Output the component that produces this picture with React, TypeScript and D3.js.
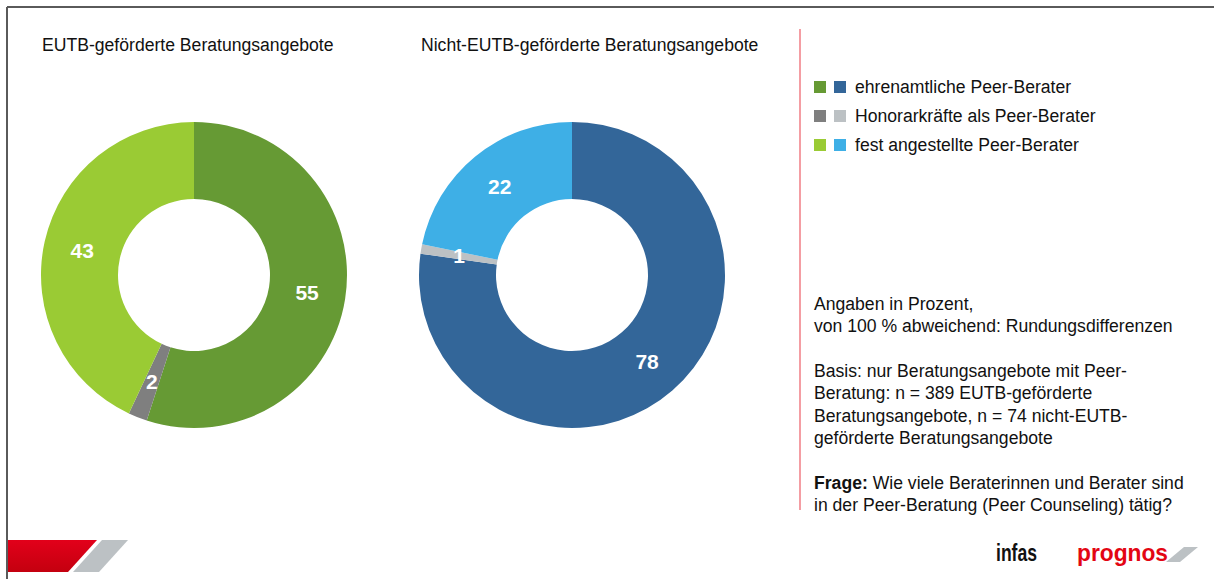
import React from 'react';
import * as d3 from 'd3';

// data
const categories = ['ehrenamtliche Peer-Berater', 'Honorarkräfte als Peer-Berater', 'fest angestellte Peer-Berater'];
const eutbValues = [55, 2, 43];
const nichtEutbValues = [78, 1, 22];
const eutbColors = ['#669a34', '#7f7f7f', '#9acb34'];
const nichtEutbColors = ['#336699', '#bcc1c4', '#3eafe6'];
const titles = ['EUTB-geförderte Beratungsangebote', 'Nicht-EUTB-geförderte Beratungsangebote'];

const notes = [
  ['Angaben in Prozent,'],
  ['von 100 % abweichend: Rundungsdifferenzen'],
  [],
  ['Basis: nur Beratungsangebote mit Peer-'],
  ['Beratung: n = 389 EUTB-geförderte'],
  ['Beratungsangebote, n = 74 nicht-EUTB-'],
  ['geförderte Beratungsangebote'],
  [],
  ['Frage:', ' Wie viele Beraterinnen und Berater sind'],
  ['in der Peer-Beratung (Peer Counseling) tätig?'],
];

const width = 1214;
const height = 579;
const font = 'Arial, "Liberation Sans", sans-serif';
const fs = 17.6;

const outerR = 153;
const innerR = 76;

const pie = d3.pie<number>().sort(null).value(d => d);
const arc = d3.arc<d3.PieArcDatum<number>>().innerRadius(innerR).outerRadius(outerR);

const Donut = ({ cx, cy, values, colors }: { cx: number; cy: number; values: number[]; colors: string[] }) => {
  const arcs = pie(values);
  return (
    <g transform={`translate(${cx},${cy})`}>
      {arcs.map((a, i) => (
        <path key={i} d={arc(a) || ''} fill={colors[i]} />
      ))}
      {arcs.map((a, i) => {
        const [x, y] = arc.centroid(a);
        return (
          <text key={'t' + i} x={x} y={y} dy="0.36em" textAnchor="middle" fill="#fff"
            fontFamily={font} fontWeight="bold" fontSize={21}>
            {values[i]}
          </text>
        );
      })}
    </g>
  );
};

const App = () => {
  const centers = [[194, 275], [572, 275]];
  return (
    <svg width={width} height={height} style={{ position: 'absolute', left: 0, top: 0, background: '#fff' }}>
      {/* frame */}
      <line x1={7} y1={7} x2={width} y2={7} stroke="#5a5a5a" strokeWidth={2} />
      <line x1={7} y1={7} x2={7} y2={height} stroke="#5a5a5a" strokeWidth={2} />

      {/* titles */}
      <text x={42} y={51} fontFamily={font} fontSize={fs} fill="#111">{titles[0]}</text>
      <text x={421} y={51} fontFamily={font} fontSize={fs} fill="#111">{titles[1]}</text>

      <Donut cx={centers[0][0]} cy={centers[0][1]} values={eutbValues} colors={eutbColors} />
      <Donut cx={centers[1][0]} cy={centers[1][1]} values={nichtEutbValues} colors={nichtEutbColors} />

      {/* divider */}
      <line x1={800} y1={29} x2={800} y2={510} stroke="#f07c85" strokeWidth={1.5} />

      {/* legend */}
      {categories.map((c, i) => {
        const y = 87 + i * 29;
        return (
          <g key={c}>
            <rect x={814} y={y - 6} width={12} height={12} fill={eutbColors[i]} />
            <rect x={834} y={y - 6} width={12} height={12} fill={nichtEutbColors[i]} />
            <text x={855} y={y} dy="0.35em" fontFamily={font} fontSize={fs} fill="#111">{c}</text>
          </g>
        );
      })}

      {/* notes */}
      {notes.map((parts, i) => (
        <text key={i} x={814} y={304 + i * 22.3} dy="0.35em" fontFamily={font} fontSize={fs} fill="#111">
          {parts.length === 2 ? (
            <>
              <tspan fontWeight="bold">{parts[0]}</tspan>
              <tspan>{parts[1]}</tspan>
            </>
          ) : parts[0]}
        </text>
      ))}

      {/* bottom left brand bars */}
      <defs>
        <linearGradient id="redg" x1="0" y1="0" x2="0" y2="1">
          <stop offset="0" stopColor="#e2001a" />
          <stop offset="1" stopColor="#c4000f" />
        </linearGradient>
      </defs>
      <polygon points="8,540 97,540 68,572 8,572" fill="url(#redg)" />
      <polygon points="102,540 128,540 99,572 73,572" fill="#bcc1c4" />

      {/* logos */}
      <text x={996} y={561} fontFamily='"Liberation Sans Narrow", "Arial Narrow", sans-serif' fontWeight="bold"
        fontSize={24} fill="#111" textLength={41} lengthAdjust="spacingAndGlyphs">infas</text>
      <text x={1077} y={561} fontFamily={font} fontWeight="bold" fontSize={24} fill="#e30613"
        textLength={91} lengthAdjust="spacingAndGlyphs">prognos</text>
      <polygon points="1184,547 1198,547 1180,562 1166,562" fill="#bcc1c4" />
    </svg>
  );
};

export default App;
